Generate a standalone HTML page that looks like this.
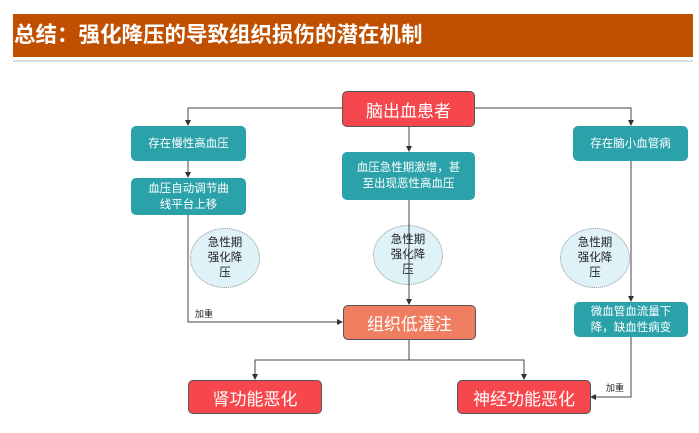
<!DOCTYPE html>
<html><head><meta charset="utf-8"><style>
body{margin:0;width:699px;height:433px;background:#fff;position:relative;overflow:hidden;font-family:"Liberation Sans","Noto Sans CJK SC",sans-serif}
.hd{position:absolute;left:13px;top:14px;width:680px;height:43px;background:#c05000;color:#fff;font-weight:bold;font-size:21.5px;line-height:43px;box-sizing:border-box;padding-left:1px;letter-spacing:0px}
.dv{position:absolute;left:13px;top:60px;width:680px;height:2px;background:#dde0e2}
.b{position:absolute;display:flex;align-items:center;justify-content:center;text-align:center;color:#fff;box-sizing:border-box;border-radius:5px}
.t{background:#2ba2aa;font-size:11.5px;line-height:16px}
.r{background:#f6474c;border:1px solid #555;font-size:17px}
.o{background:#ef7d60;border:1px solid #555;font-size:17px}
.c{position:absolute;width:70px;height:60px;border-radius:50%;background:#dff2f7;border:1px dotted #999;box-sizing:border-box;display:flex;align-items:center;justify-content:center;text-align:center;font-size:11.5px;line-height:15px;color:#222}
.l{position:absolute;font-size:9px;color:#222}
</style></head><body>
<div class="hd">总结：强化降压的导致组织损伤的潜在机制</div>
<div class="dv"></div>
<div class="c" style="left:190px;top:228px">急性期<br>强化降<br>压</div>
<div class="c" style="left:373px;top:225px">急性期<br>强化降<br>压</div>
<div class="c" style="left:560px;top:228px">急性期<br>强化降<br>压</div>
<svg width="699" height="433" style="position:absolute;left:0;top:0">
<defs><marker id="a" markerWidth="6" markerHeight="6" refX="5" refY="3" orient="auto"><path d="M0,0 L6,3 L0,6z" fill="#333"/></marker></defs>
<g stroke="#444" stroke-width="1" fill="none">
<path d="M342,108 H188 V125" marker-end="url(#a)"/>
<path d="M475,108 H631 V125" marker-end="url(#a)"/>
<path d="M409,127 V151" marker-end="url(#a)"/>
<path d="M188,161 V177" marker-end="url(#a)"/>
<path d="M188,214 V322 H342" marker-end="url(#a)"/>
<path d="M409,200 V304" marker-end="url(#a)"/>
<path d="M631,161 V301" marker-end="url(#a)"/>
<path d="M631,337 V397 H591" marker-end="url(#a)"/>
<path d="M409,340 V360 H255 V379" marker-end="url(#a)"/>
<path d="M409,360 H524 V379" marker-end="url(#a)"/>
</g></svg>
<div class="l" style="left:195px;top:307px">加重</div>
<div class="l" style="left:606px;top:381px">加重</div>
<div class="b r" style="left:342px;top:91px;width:133px;height:36px">脑出血患者</div>
<div class="b t" style="left:131px;top:126px;width:115px;height:35px">存在慢性高血压</div>
<div class="b t" style="left:131px;top:178px;width:115px;height:37px">血压自动调节曲<br>线平台上移</div>
<div class="b t" style="left:342px;top:152px;width:133px;height:48px">血压急性期激增，甚<br>至出现恶性高血压</div>
<div class="b t" style="left:573px;top:126px;width:115px;height:35px">存在脑小血管病</div>
<div class="b t" style="left:574px;top:302px;width:114px;height:35px">微血管血流量下<br>降，缺血性病变</div>
<div class="b o" style="left:343px;top:305px;width:133px;height:35px">组织低灌注</div>
<div class="b r" style="left:188px;top:380px;width:134px;height:34px">肾功能恶化</div>
<div class="b r" style="left:457px;top:380px;width:134px;height:34px">神经功能恶化</div>
</body></html>
